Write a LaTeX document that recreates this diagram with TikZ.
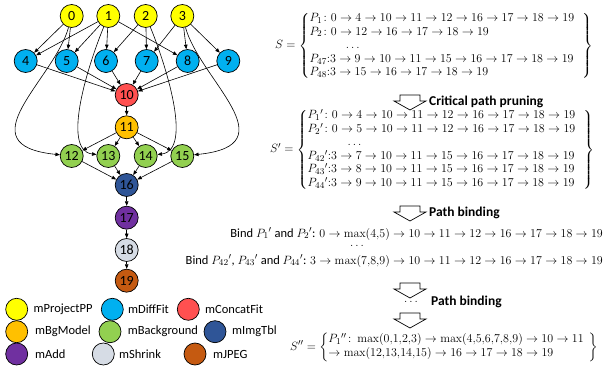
\documentclass[tikz,border=0pt]{standalone}
\usepackage{amsmath}
\usepackage[no-math]{fontspec}
\setmainfont{Carlito}
\usetikzlibrary{arrows.meta}
\definecolor{cProject}{HTML}{FFFF00}
\definecolor{cDiff}{HTML}{00B0F0}
\definecolor{cConcat}{HTML}{FF5050}
\definecolor{cBgModel}{HTML}{FFC000}
\definecolor{cBackground}{HTML}{92D050}
\definecolor{cImgTbl}{HTML}{2F5597}
\definecolor{cAdd}{HTML}{7030A0}
\definecolor{cShrink}{HTML}{D6DCE5}
\definecolor{cJPEG}{HTML}{C55A11}
\tikzstyle{job}=[circle, draw, line width=0.7pt, minimum size=23pt, inner sep=0pt, font=\fontsize{14}{14}\selectfont]
\tikzstyle{key}=[circle, draw, line width=0.7pt, minimum size=22pt, inner sep=0pt]
\tikzstyle{keytext}=[anchor=west, inner sep=0pt, font=\fontsize{12.5}{13}\selectfont]
\tikzstyle{dep}=[line width=0.6pt, -{Triangle[length=4.5pt,width=3.5pt]}]
\tikzstyle{hollow}=[line width=0.7pt, fill=white]
\tikzstyle{phase}=[anchor=west, inner sep=0pt, font=\fontsize{13.5}{14}\selectfont\bfseries]
\tikzstyle{pathset}=[anchor=west, inner sep=0pt]
\newcommand{\setsize}{\fontsize{12.5}{14}\selectfont}

\begin{document}
\begin{tikzpicture}[x=1pt, y=-1pt]
  \useasboundingbox (0,0) rectangle (610,379);
  % workflow
  \node[job, fill=cProject] (n0) at (71.7,16) {0};
  \node[job, fill=cProject] (n1) at (108.3,16) {1};
  \node[job, fill=cProject] (n2) at (145.7,16) {2};
  \node[job, fill=cProject] (n3) at (182.3,16) {3};
  \node[job, fill=cDiff] (n4) at (25.7,61) {4};
  \node[job, fill=cDiff] (n5) at (66.7,61) {5};
  \node[job, fill=cDiff] (n6) at (106,61) {6};
  \node[job, fill=cDiff] (n7) at (146.7,61) {7};
  \node[job, fill=cDiff] (n8) at (187.7,61) {8};
  \node[job, fill=cDiff] (n9) at (228.3,61) {9};
  \node[job, fill=cConcat] (n10) at (126.7,95) {10};
  \node[job, fill=cBgModel] (n11) at (126.7,127.3) {11};
  \node[job, fill=cBackground] (n12) at (71.7,156) {12};
  \node[job, fill=cBackground] (n13) at (108.3,156) {13};
  \node[job, fill=cBackground] (n14) at (145.7,156) {14};
  \node[job, fill=cBackground] (n15) at (182.3,156) {15};
  \node[job, fill=cImgTbl] (n16) at (126.7,185) {16};
  \node[job, fill=cAdd] (n17) at (126.7,217.7) {17};
  \node[job, fill=cShrink] (n18) at (126.7,250) {18};
  \node[job, fill=cJPEG] (n19) at (126.7,280.7) {19};

  \foreach \a/\b in {0/4,0/5,1/4,1/5,1/6,1/8,2/6,2/7,3/7,3/8,3/9,
      4/10,5/10,6/10,7/10,8/10,9/10,10/11,11/12,11/13,11/14,11/15,
      12/16,13/16,14/16,15/16,16/17,17/18,18/19}
    \draw[dep] (n\a) -- (n\b);
  \draw[dep] (n0) .. controls (54,80) and (-36,145) .. (n12);
  \draw[dep] (n1) .. controls (90,60) and (60,150) .. (n13);
  \draw[dep] (n2) .. controls (164,60) and (194,150) .. (n14);
  \draw[dep] (n3) .. controls (200,80) and (290,145) .. (n15);

  % legend
  \node[key, fill=cProject] (k1) at (16.7,309.3) {};
  \node[keytext] (t1) at (33.5,309.3) {mProjectPP};
  \node[key, fill=cDiff] (k2) at (112.3,309.3) {};
  \node[keytext] (t2) at (128,309.3) {mDiffFit};
  \node[key, fill=cConcat] (k3) at (188.3,309.3) {};
  \node[keytext] (t3) at (205,309.3) {mConcatFit};
  \node[key, fill=cBgModel] (k4) at (16.7,331.7) {};
  \node[keytext] (t4) at (35,331.7) {mBgModel};
  \node[key, fill=cBackground] (k5) at (110,331.7) {};
  \node[keytext] (t5) at (127.7,331.7) {mBackground};
  \node[key, fill=cImgTbl] (k6) at (215,331.7) {};
  \node[keytext] (t6) at (232,331.7) {mImgTbl};
  \node[key, fill=cAdd] (k7) at (16.7,354) {};
  \node[keytext] (t7) at (35,354) {mAdd};
  \node[key, fill=cShrink] (k8) at (103.3,354) {};
  \node[keytext] (t8) at (119,354) {mShrink};
  \node[key, fill=cJPEG] (k9) at (195,354) {};
  \node[keytext] (t9) at (213,354) {mJPEG};

  % path sets
  \node[pathset] (setS) at (275,46) {\fontsize{12.5}{13.6}\selectfont$S=\left\{\begin{array}{@{}l@{\hspace{8pt}}}
    P_1\colon 0\to4\to10\to11\to12\to16\to17\to18\to19\\
    P_2\colon 0\to12\to16\to17\to18\to19\\
    \hspace{2.9em}\ldots\\
    P_{47}{:}3\to9\to10\to11\to15\to16\to17\to18\to19\\
    P_{48}{:}3\to15\to16\to17\to18\to19
    \end{array}\right\}$};
  \node[pathset] (setS1) at (270,150) {\fontsize{12.5}{13.5}\selectfont$S'=\left\{\begin{array}{@{}l@{\hspace{8pt}}}
    P_1{}'\colon 0\to4\to10\to11\to12\to16\to17\to18\to19\\
    P_2{}'\colon 0\to5\to10\to11\to12\to16\to17\to18\to19\\
    \hspace{3.2em}\ldots\\
    P_{42}{}'{:}3\to7\to10\to11\to15\to16\to17\to18\to19\\
    P_{43}{}'{:}3\to8\to10\to11\to15\to16\to17\to18\to19\\
    P_{44}{}'{:}3\to9\to10\to11\to15\to16\to17\to18\to19
    \end{array}\right\}$};
  \node[anchor=east, inner sep=0pt] (bind1) at (603,234) {\setsize Bind $P_1{}'$ and $P_2{}'$: $0\to\max(4{,}5)\to10\to11\to12\to16\to17\to18\to19$};
  \node[inner sep=0pt] (dots1) at (357,246) {\setsize$\ldots$};
  \node[anchor=east, inner sep=0pt] (bind2) at (603,261) {\setsize Bind $P_{42}{}'$, $P_{43}{}'$ and $P_{44}{}'$: $3\to\max(7{,}8{,}9)\to10\to11\to12\to16\to17\to18\to19$};
  \node[pathset] (setS2) at (290,347) {\setsize$S''=\left\{\begin{array}{@{}l@{\hspace{5pt}}}
    P_1{}''\colon \max(0{,}1{,}2{,}3)\to\max(4{,}5{,}6{,}7{,}8{,}9)\to10\to11\\
    \to\max(12{,}13{,}14{,}15)\to16\to17\to18\to19
    \end{array}\right\}$};

  % steps
  \foreach \y in {95,206,283,313}
    \draw[hollow] (410,\y) ++(-10,0) -- ++(20,0) -- ++(0,6) -- ++(6,0)
      -- ++(-16,9) -- ++(-16,-9) -- ++(6,0) -- cycle;
  \node[phase] (p1) at (429,102) {Critical path pruning};
  \node[phase] (p2) at (429,213) {Path binding};
  \node[inner sep=0pt] (dots2) at (411,302) {\setsize$\ldots$};
  \node[phase] (p3) at (431,302) {Path binding};
\end{tikzpicture}
\end{document}
